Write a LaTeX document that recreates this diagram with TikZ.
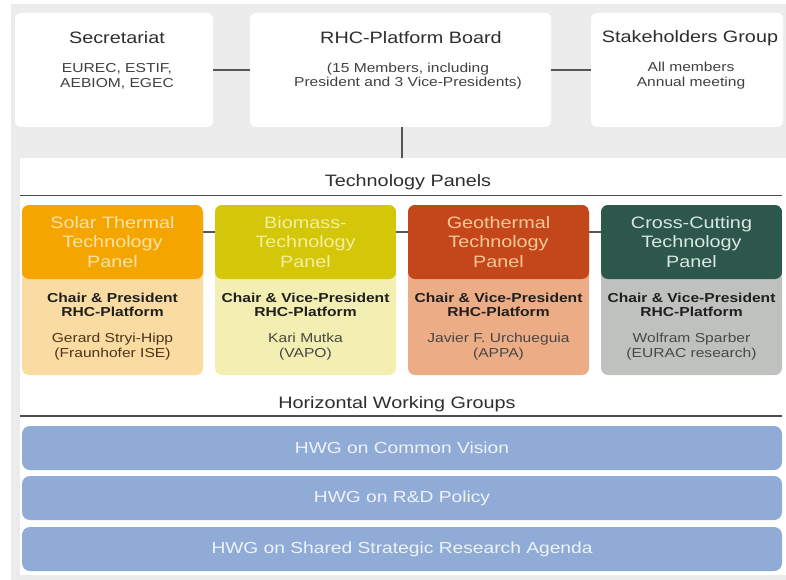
\documentclass[tikz,border=0pt]{standalone}
\usepackage{fontspec}
\setmainfont{Liberation Sans}[FakeStretch=1.2]
\usetikzlibrary{calc}

\definecolor{bggray}{HTML}{ECECEC}
\definecolor{headgray}{HTML}{2E2E2E}
\definecolor{detailgray}{HTML}{404040}
\definecolor{linegray}{HTML}{555555}
\definecolor{solarhead}{HTML}{F5A500}
\definecolor{solarbody}{HTML}{FADCA2}
\definecolor{solartext}{HTML}{FCE3A8}
\definecolor{biohead}{HTML}{D4C70A}
\definecolor{biobody}{HTML}{F3EEB2}
\definecolor{biotext}{HTML}{F3EEA0}
\definecolor{geohead}{HTML}{C4471B}
\definecolor{geobody}{HTML}{EBAC86}
\definecolor{geotext}{HTML}{F8C896}
\definecolor{crosshead}{HTML}{2E574C}
\definecolor{crossbody}{HTML}{BFC1BF}
\definecolor{crosstext}{HTML}{D8E8E2}
\definecolor{hwgfill}{HTML}{90ACD6}
\definecolor{hwgtext}{HTML}{EEF2FA}

\begin{document}
\begin{tikzpicture}[x=1pt,y=-1pt,
  every node/.style={inner sep=0pt, outer sep=0pt},
  topbox/.style={fill=white, rounded corners=6pt, minimum height=114pt},
  heading/.style={font=\fontsize{16.5}{19.5}\selectfont, text=headgray, align=center},
  detail/.style={font=\fontsize{13}{14.5}\selectfont, text=detailgray, align=center},
  paneltitle/.style={font=\fontsize{16.5}{19.5}\selectfont, align=center},
  chair/.style={font=\bfseries\fontsize{13}{14.5}\selectfont, text=black!88, align=center},
  person/.style={font=\fontsize{13}{15}\selectfont, text=black!72, align=center},
  panel/.style 2 args={rounded corners=7pt, minimum width=181pt, minimum height=170pt,
    fill=#2, anchor=north west,
    path picture={\fill[#1] (path picture bounding box.north west)
      rectangle ([yshift=-74pt]path picture bounding box.north east);}},
  hwg/.style={fill=hwgfill, rounded corners=8pt, minimum width=760pt, minimum height=44pt,
    anchor=north west, text=hwgtext, font=\fontsize{16}{19}\selectfont},
  conn/.style={draw=linegray, line width=1.2pt},
  rule/.style={draw=headgray!85, line width=1.2pt}
]
\useasboundingbox (0,0) rectangle (786,580);

% backgrounds
\fill[bggray] (11,4) rectangle (786,580);
\fill[white] (20,158) rectangle (786,575);

% governance boxes
\node[topbox, minimum width=198pt] (secr) at (114,70) {};
\node[topbox, minimum width=301pt] (board) at (400.5,70) {};
\node[topbox, minimum width=192pt] (stake) at (687,70) {};

\node[heading] (secrT) at (117,38) {Secretariat};
\node[detail] (secrD) at (117,76.5) {EUREC, ESTIF,\\AEBIOM, EGEC};
\node[heading] (boardT) at (411,38) {RHC-Platform Board};
\node[detail] (boardD) at (408,76) {(15 Members, including\\President and 3 Vice-Presidents)};
\node[heading] (stakeT) at (690,38) {Stakeholders Group};
\node[detail] (stakeD) at (691,75.5) {All members\\Annual meeting};

\draw[conn] (secr.east) -- (board.west);
\draw[conn] (board.east) -- (stake.west);
\coordinate (bandtop) at (402,158);
\draw[conn] (board.south -| bandtop) -- (bandtop);

% technology panels
\node[heading] (tp) at (408,182) {Technology Panels};
\draw[rule] (20,195.5) -- (782,195.5);

% links between panels, drawn first so the panels sit on top
\coordinate (linkL) at (203,232);
\coordinate (linkR) at (601,232);
\draw[conn] (linkL) -- (linkR);

\node[panel={solarhead}{solarbody}] (solar) at (22,205) {};
\node[panel={biohead}{biobody}] (bio) at (215,205) {};
\node[panel={geohead}{geobody}] (geo) at (408,205) {};
\node[panel={crosshead}{crossbody}] (cross) at (601,205) {};

\node[paneltitle, text=solartext] (solarT) at ($(solar.north)+(0,37)$) {Solar Thermal\\Technology\\Panel};
\node[chair] (solarC) at ($(solar.north)+(0,100)$) {Chair \& President\\RHC-Platform};
\node[person, text=black!60!brown] (solarP) at ($(solar.north)+(0,141.5)$) {Gerard Stryi-Hipp\\(Fraunhofer ISE)};

\node[paneltitle, text=biotext] (bioT) at ($(bio.north)+(0,37)$) {Biomass-\\Technology\\Panel};
\node[chair] (bioC) at ($(bio.north)+(0,100)$) {Chair \& Vice-President\\RHC-Platform};
\node[person] (bioP) at ($(bio.north)+(0,141.5)$) {Kari Mutka\\(VAPO)};

\node[paneltitle, text=geotext] (geoT) at ($(geo.north)+(0,37)$) {Geothermal\\Technology\\Panel};
\node[chair] (geoC) at ($(geo.north)+(0,100)$) {Chair \& Vice-President\\RHC-Platform};
\node[person] (geoP) at ($(geo.north)+(0,141.5)$) {Javier F. Urchueguia\\(APPA)};

\node[paneltitle, text=crosstext] (crossT) at ($(cross.north)+(0,37)$) {Cross-Cutting\\Technology\\Panel};
\node[chair] (crossC) at ($(cross.north)+(0,100)$) {Chair \& Vice-President\\RHC-Platform};
\node[person] (crossP) at ($(cross.north)+(0,141.5)$) {Wolfram Sparber\\(EURAC research)};

% horizontal working groups
\node[heading] (hwgT) at (397,404) {Horizontal Working Groups};
\draw[rule] (20,416) -- (782,416);
\node[hwg] (hwg1) at (22,426) {HWG on Common Vision};
\node[hwg] (hwg2) at (22,476) {HWG on R\&D Policy};
\node[hwg] (hwg3) at (22,527) {HWG on Shared Strategic Research Agenda};
\end{tikzpicture}
\end{document}
